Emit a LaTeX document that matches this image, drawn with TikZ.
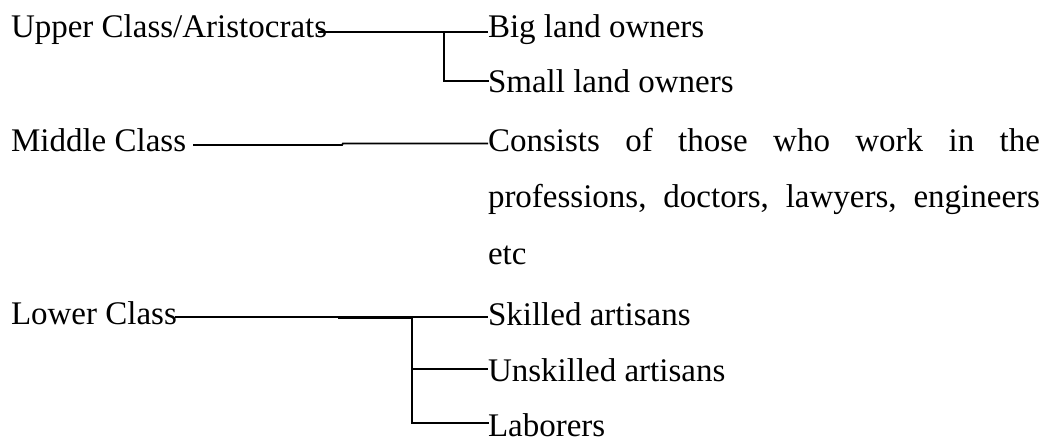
\documentclass[tikz,border=0pt]{standalone}
\usepackage{fontspec}
\setmainfont{Liberation Serif}
\begin{document}
\begin{tikzpicture}[x=1pt,y=-1pt,
  lbl/.style={anchor=base west,inner sep=0pt,outer sep=0pt,font=\fontsize{33}{49}\selectfont},
  conn/.style={line width=1.8pt},
  thick conn/.style={line width=2.6pt}]
\useasboundingbox (0,0) rectangle (1047,442);
% left labels
\node[lbl] (upper) at (11,37) {Upper Class/Aristocrats};
\node[lbl] (middle) at (11,151) {Middle Class};
\node[lbl] (lower) at (11,324) {Lower Class};
% right labels
\node[lbl] (big) at (488,37) {Big land owners};
\node[lbl] (small) at (488,92.5) {Small land owners};
\node[lbl] (cons) at (488,151) {\makebox[552pt][s]{Consists of those who work in the}};
\node[lbl] (prof) at (488,207) {\makebox[552pt][s]{professions, doctors, lawyers, engineers}};
\node[lbl] (etc) at (488,264) {etc};
\node[lbl] (skilled) at (488,325) {Skilled artisans};
\node[lbl] (unskilled) at (488,381) {Unskilled artisans};
\node[lbl] (laborers) at (488,436.5) {Laborers};
% connector coordinates
\coordinate (u0) at (318,32.3);
\coordinate (uj) at (444,32.3);
\coordinate (uj2) at (444,80.7);
\coordinate (m0) at (193,145);
\coordinate (mj) at (342,145);
\coordinate (mj2) at (343,143.4);
\coordinate (l0) at (175,316.8);
\coordinate (lt) at (338,317.2);
\coordinate (lj) at (412,316.8);
\coordinate (lj2) at (412,369.3);
\coordinate (lj3) at (412,422.7);
% upper
\draw[conn] (u0) -- (uj) -- (uj -| big.west);
\draw[conn,line cap=rect] (uj) -- (uj2) -- (uj2 -| small.west);
% middle
\draw[conn] (m0) -- (mj) -- (mj2) -- (mj2 -| cons.west);
% lower
\draw[conn] (l0) -- (lj -| skilled.west);
\draw[thick conn] (lt) -- (lt -| lj);
\draw[conn,line cap=rect] (lj) -- (lj3) -- (lj3 -| laborers.west);
\draw[conn] (lj2) -- (lj2 -| unskilled.west);
\end{tikzpicture}
\end{document}
